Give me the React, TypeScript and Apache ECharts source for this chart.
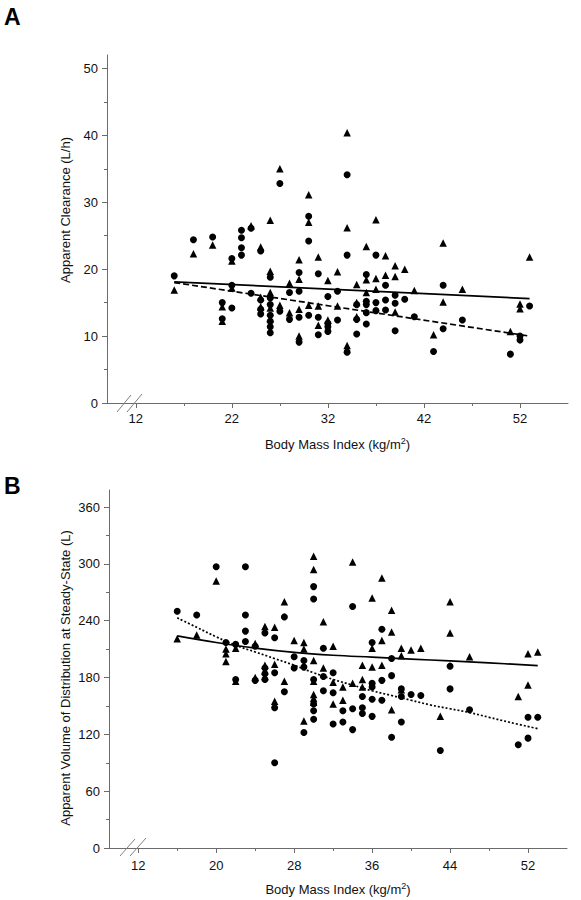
import React, { useEffect, useRef } from "react";
import * as echarts from "echarts";

// ---------- Panel A: Apparent Clearance (L/h) vs BMI ----------
const circlesA: number[][] = [
  [16, 19.0], [18, 24.4], [20, 24.8], [21, 15.0], [21, 12.6], [22, 21.6], [22, 17.6], [22, 14.2],
  [23, 25.8], [23, 24.7], [23, 23.2], [23, 22.1], [24, 26.1], [24, 16.4], [25, 22.7], [25, 15.4],
  [25, 14.0], [25, 13.3], [26, 18.8], [26, 15.7], [26, 14.7], [26, 13.1], [26, 12.2], [26, 11.4],
  [26, 10.5], [27, 32.8], [27, 13.7], [28, 16.5], [28, 12.5], [29, 19.5], [29, 16.7], [29, 12.8],
  [29, 9.1], [30, 27.9], [30, 24.2], [30, 13.1], [31, 19.3], [31, 12.8], [31, 10.2], [32, 15.9],
  [32, 11.9], [32, 11.4], [32, 10.7], [33, 16.7], [33, 12.4], [34, 34.1], [34, 22.1], [34, 7.6],
  [35, 14.7], [35, 12.5], [35, 10.3], [36, 19.2], [36, 15.2], [36, 14.7], [36, 13.5], [36, 11.8],
  [37, 22.1], [37, 15.0], [37, 13.8], [38, 17.6], [38, 15.4], [38, 13.9], [39, 16.1], [39, 14.9],
  [39, 10.8], [40, 15.5], [41, 12.9], [43, 7.7], [44, 17.6], [44, 11.1], [46, 12.4], [51, 7.3],
  [52, 10.0], [52, 9.4], [53, 14.5],
];
const trianglesA: number[][] = [
  [16, 16.9], [18, 22.3], [20, 23.6], [21, 14.4], [21, 12.2], [22, 21.2], [22, 17.2], [24, 26.5],
  [25, 23.3], [25, 15.8], [25, 14.4], [26, 27.3], [26, 19.7], [26, 16.5], [26, 14.2], [26, 12.6],
  [27, 35.0], [27, 14.6], [28, 17.9], [28, 13.5], [29, 21.4], [29, 18.5], [29, 14.0], [29, 10.0],
  [30, 31.1], [30, 27.0], [30, 14.6], [31, 21.8], [31, 14.5], [31, 11.6], [32, 18.3], [32, 12.4],
  [33, 19.6], [33, 14.5], [34, 40.4], [34, 26.2], [34, 8.6], [35, 17.7], [35, 15.0], [35, 12.9],
  [36, 23.4], [36, 18.4], [36, 16.5], [37, 27.4], [37, 18.6], [37, 17.0], [38, 22.0], [38, 19.1],
  [39, 20.5], [39, 18.9], [39, 13.6], [40, 20.0], [41, 16.8], [43, 10.2], [44, 23.9], [44, 15.1],
  [46, 17.0], [51, 10.7], [52, 14.8], [52, 14.1], [53, 21.8],
];
const solidFitA: number[][] = [[16, 18.1], [53, 15.6]];
const dashedFitA: number[][] = [[16, 18.0], [53, 10.0]];

const xTicksA = [12, 22, 32, 42, 52];
const xMinorA = [17, 27, 37, 47];
const yTicksA = [0, 10, 20, 30, 40, 50];
const yMinorA = [5, 15, 25, 35, 45];

// ---------- Panel B: Apparent Volume of Distribution (L) vs BMI ----------
const circlesB: number[][] = [
  [16, 250], [18, 246], [20, 297], [21, 217], [22, 215], [22, 178], [23, 297], [23, 246],
  [23, 229], [23, 218], [24, 213], [24, 177], [25, 227], [25, 190], [25, 184], [25, 178],
  [26, 222], [26, 185], [26, 148], [26, 90], [27, 244], [27, 165], [28, 202], [28, 190],
  [29, 198], [29, 191], [29, 122], [30, 276], [30, 263], [30, 178], [30, 152], [30, 145],
  [30, 136], [31, 211], [31, 181], [31, 166], [32, 185], [32, 164], [32, 131], [33, 145],
  [33, 133], [34, 255], [34, 147], [34, 125], [35, 160], [35, 148], [35, 142], [36, 217],
  [36, 174], [36, 170], [36, 157], [36, 139], [37, 231], [37, 177], [37, 156], [38, 200],
  [38, 182], [38, 117], [39, 168], [39, 160], [39, 133], [40, 162], [41, 161], [43, 103],
  [44, 192], [44, 168], [46, 146], [51, 109], [52, 138], [52, 116], [53, 138],
];
const trianglesB: number[][] = [
  [16, 221], [18, 225], [20, 282], [21, 210], [21, 205], [21, 197], [22, 211], [22, 176],
  [24, 216], [24, 180], [25, 234], [25, 193], [25, 187], [25, 181], [26, 233], [26, 194],
  [26, 155], [27, 260], [27, 176], [28, 219], [29, 217], [29, 210], [29, 134], [30, 308],
  [30, 294], [30, 198], [30, 176], [30, 162], [30, 158], [30, 154], [31, 239], [31, 190],
  [32, 213], [32, 175], [32, 152], [33, 170], [33, 156], [34, 302], [34, 174], [35, 193],
  [35, 178], [35, 170], [36, 264], [36, 211], [36, 191], [37, 285], [37, 219], [37, 193],
  [38, 251], [38, 228], [38, 146], [39, 211], [39, 203], [39, 167], [40, 209], [41, 211],
  [43, 139], [44, 260], [44, 227], [46, 202], [51, 160], [52, 205], [52, 172], [53, 207],
];
const solidFitB: number[][] = [
  [16, 224], [20, 217], [24, 211], [28, 206.5], [32, 203.5], [36, 201.5], [40, 199.5],
  [44, 197.5], [48, 195.5], [53, 192.5],
];
const dottedFitB: number[][] = [
  [16, 243], [18, 233], [20, 223], [22, 214], [24, 207], [26, 200], [28, 193], [30, 185],
  [32, 178], [34, 172], [36, 166], [38, 161], [40, 156], [42, 151], [44, 147], [46, 143],
  [48, 138], [50, 133], [53, 126],
];

const xTicksB = [12, 20, 28, 36, 44, 52];
const xMinorB = [16, 24, 32, 40, 48];
const yTicksB = [0, 60, 120, 180, 240, 300, 360];
const yMinorB = [30, 90, 150, 210, 270, 330];

const FONT = "'Liberation Sans', Arial, Helvetica, sans-serif";
const AXIS_COLOR = "#6b6b6b";
const TEXT_COLOR = "#111";

function mainX(gridIndex: number, min: number, max: number, ticks: number[], margin: number) {
  return {
    type: "value",
    gridIndex,
    position: "bottom",
    min,
    max,
    name: "Body Mass Index (kg/m{sup|2})",
    nameLocation: "middle",
    nameGap: 33,
    nameTextStyle: {
      color: TEXT_COLOR,
      fontFamily: FONT,
      fontSize: 13,
      lineHeight: 16,
      rich: { sup: { fontSize: 9, verticalAlign: "top", lineHeight: 9, fontFamily: FONT, color: TEXT_COLOR } },
    },
    axisLine: { show: true, onZero: false, lineStyle: { color: AXIS_COLOR, width: 1 } },
    axisTick: { show: true, customValues: ticks, length: 5, lineStyle: { color: AXIS_COLOR } },
    axisLabel: { customValues: ticks, color: TEXT_COLOR, fontFamily: FONT, fontSize: 13, margin },
    splitLine: { show: false },
  };
}
function minorX(gridIndex: number, min: number, max: number, ticks: number[]) {
  return {
    type: "value",
    gridIndex,
    position: "bottom",
    offset: 0,
    min,
    max,
    axisLine: { show: false, onZero: false },
    axisTick: { show: true, customValues: ticks, length: 3, lineStyle: { color: AXIS_COLOR } },
    axisLabel: { show: false },
    splitLine: { show: false },
  };
}
function mainY(gridIndex: number, min: number, max: number, ticks: number[]) {
  return {
    type: "value",
    gridIndex,
    position: "left",
    min,
    max,
    axisLine: { show: true, onZero: false, lineStyle: { color: AXIS_COLOR, width: 1 } },
    axisTick: { show: true, customValues: ticks, length: 5, lineStyle: { color: AXIS_COLOR } },
    axisLabel: { customValues: ticks, color: TEXT_COLOR, fontFamily: FONT, fontSize: 13, margin: 9 },
    splitLine: { show: false },
  };
}
function minorY(gridIndex: number, min: number, max: number, ticks: number[]) {
  return {
    type: "value",
    gridIndex,
    position: "left",
    offset: 0,
    min,
    max,
    axisLine: { show: false, onZero: false },
    axisTick: { show: true, customValues: ticks, length: 3, lineStyle: { color: AXIS_COLOR } },
    axisLabel: { show: false },
    splitLine: { show: false },
  };
}

function scatter(name: string, data: number[][], symbol: string, axis: number) {
  return {
    name,
    type: "scatter",
    data,
    symbol,
    symbolSize: symbol === "circle" ? 7 : 7.5,
    xAxisIndex: axis,
    yAxisIndex: axis,
    itemStyle: { color: "#000", opacity: 1 },
    z: 3,
  };
}
function fit(name: string, data: number[][], type: any, axis: number, smooth: boolean) {
  return {
    name,
    type: "line",
    data,
    symbol: "none",
    showSymbol: false,
    smooth: smooth ? 0.4 : false,
    xAxisIndex: axis,
    yAxisIndex: axis,
    lineStyle: { color: "#000", width: 1.7, type },
    z: 4,
  };
}

function slash(x1: number, y1: number, x2: number, y2: number) {
  return {
    type: "line",
    shape: { x1, y1, x2, y2 },
    style: { stroke: "#808080", lineWidth: 1 },
    z: 10,
  };
}

export default function App() {
  const ref = useRef<HTMLDivElement>(null);
  useEffect(() => {
    if (!ref.current) return;
    const chart = echarts.init(ref.current, undefined, { renderer: "svg" });
    chart.setOption({
      animation: false,
      backgroundColor: "#fff",
      textStyle: { fontFamily: FONT },
      grid: [
        { left: 107, top: 55, width: 461, height: 348 },
        { left: 109, top: 490, width: 458, height: 358 },
      ],
      xAxis: [
        mainX(0, 9, 57, xTicksA, 9),
        minorX(0, 9, 57, xMinorA),
        mainX(1, 9, 56, xTicksB, 11),
        minorX(1, 9, 56, xMinorB),
      ],
      yAxis: [
        mainY(0, 0, 52, yTicksA),
        minorY(0, 0, 52, yMinorA),
        mainY(1, 0, 378, yTicksB),
        minorY(1, 0, 378, yMinorB),
      ],
      series: [
        scatter("Circles A", circlesA, "circle", 0),
        scatter("Triangles A", trianglesA, "triangle", 0),
        fit("Solid fit A", solidFitA, "solid", 0, false),
        fit("Dashed fit A", dashedFitA, [6, 3], 0, false),
        scatter("Circles B", circlesB, "circle", 2),
        scatter("Triangles B", trianglesB, "triangle", 2),
        fit("Solid fit B", solidFitB, "solid", 2, true),
        fit("Dotted fit B", dottedFitB, [2, 2], 2, true),
      ],
      graphic: [
        { type: "text", left: 4, top: 5, style: { text: "A", font: `bold 23px ${FONT}`, fill: "#000" } },
        { type: "text", left: 4, top: 474, style: { text: "B", font: `bold 23px ${FONT}`, fill: "#000" } },
        {
          type: "text",
          x: 65,
          y: 210,
          rotation: Math.PI / 2,
          style: {
            text: "Apparent Clearance (L/h)",
            font: `13px ${FONT}`,
            fill: TEXT_COLOR,
            align: "center",
            verticalAlign: "middle",
          },
        },
        {
          type: "text",
          x: 65,
          y: 678,
          rotation: Math.PI / 2,
          style: {
            text: "Apparent Volume of Distribution at Steady-State (L)",
            font: `13px ${FONT}`,
            fill: TEXT_COLOR,
            align: "center",
            verticalAlign: "middle",
          },
        },
        slash(117, 412, 131, 395),
        slash(127, 412, 142, 394),
        slash(120, 856, 135, 839),
        slash(130, 856, 146, 838),
      ],
    });
    return () => chart.dispose();
  }, []);
  return (
    <div
      ref={ref}
      style={{ position: "fixed", left: 0, top: 0, width: 581, height: 900, background: "#fff" }}
    />
  );
}
